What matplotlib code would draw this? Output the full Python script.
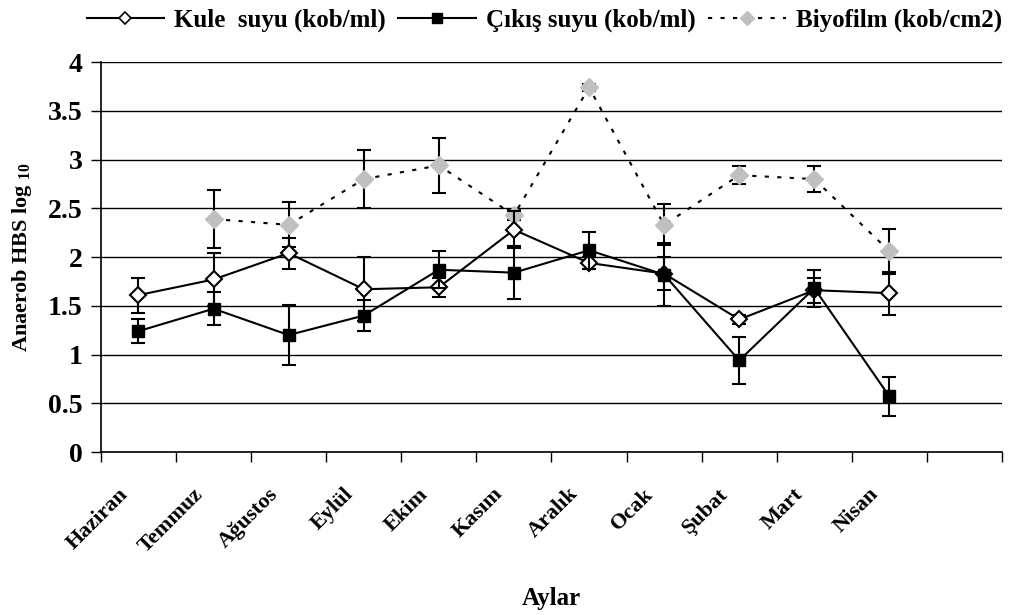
import matplotlib
matplotlib.use('Agg')
import matplotlib.pyplot as plt
import matplotlib.transforms as mtransforms
from matplotlib.lines import Line2D
import numpy as np

plt.rcParams['font.family'] = ['Liberation Serif', 'DejaVu Serif']
plt.rcParams['font.weight'] = 'bold'
plt.rcParams['mathtext.fontset'] = 'custom'
plt.rcParams['mathtext.rm'] = 'Liberation Serif:bold'

months = ['Haziran', 'Temmuz', 'Ağustos', 'Eylül', 'Ekim', 'Kasım',
          'Aralık', 'Ocak', 'Şubat', 'Mart', 'Nisan']

kule = [1.61, 1.77, 2.04, 1.67, 1.69, 2.28, 1.94, 1.83, 1.36, 1.66, 1.63]
kule_err = [0.18, 0.27, 0.16, 0.33, 0.10, 0.19, 0.06, 0.17, 0.05, 0.13, 0.22]

cikis = [1.24, 1.47, 1.20, 1.40, 1.87, 1.84, 2.07, 1.82, 0.94, 1.68, 0.57]
cikis_err = [0.12, 0.17, 0.31, 0.16, 0.19, 0.27, 0.19, 0.32, 0.24, 0.19, 0.20]

biyofilm = [np.nan, 2.39, 2.33, 2.80, 2.94, 2.43, 3.74, 2.33, 2.84, 2.80, 2.06]
biyofilm_err = [0, 0.30, 0.23, 0.30, 0.28, 0.05, 0.04, 0.21, 0.09, 0.13, 0.23]

labels = ['Kule  suyu (kob/ml)', 'Çıkış suyu (kob/ml)', 'Biyofilm (kob/cm2)']

fig = plt.figure(figsize=(10.27, 6.15), dpi=100)
ax = fig.add_axes([0.0983, 0.265, 0.8774, 0.634])

x = np.arange(len(months))
ebkw = dict(ecolor='black', elinewidth=1.5, capsize=5, capthick=1.5)
dots = (0, (2, 4))

ax.errorbar(x, kule, yerr=kule_err, color='black', lw=1.5,
            marker='D', ms=8, mfc='white', mec='black', mew=1.5,
            zorder=4, **ebkw)
ax.errorbar(x, cikis, yerr=cikis_err, color='black', lw=1.5,
            marker='s', ms=9, mfc='black', mec='black',
            zorder=5, **ebkw)
ax.errorbar(x, biyofilm, yerr=biyofilm_err, color='black', lw=1.5,
            ls=dots, marker='D', ms=9, mfc='#c0c0c0', mec='#c0c0c0',
            zorder=3, **ebkw)

ax.set_xlim(-0.5, 11.5)
ax.set_ylim(0, 4)
ax.set_xticks(np.arange(-0.5, 12, 1))
ax.set_xticklabels([])
ax.set_xticks(x, minor=True)
ax.set_xticklabels(months, minor=True, rotation=45, ha='right',
                   rotation_mode='anchor', fontsize=16, fontweight='bold')
ax.tick_params(axis='x', which='minor', length=0, pad=23)
ax.tick_params(axis='x', which='major', length=7, direction='out', width=1)
shift = mtransforms.ScaledTranslation(-15 / 72, 0, fig.dpi_scale_trans)
for lab in ax.get_xticklabels(minor=True):
    lab.set_transform(lab.get_transform() + shift)

ax.set_yticks(np.arange(0, 4.01, 0.5))
ax.set_yticklabels(['0', '0.5', '1', '1.5', '2', '2.5', '3', '3.5', '4'],
                   fontsize=20, fontweight='bold')
ax.tick_params(axis='y', length=7, width=1, pad=6)
ax.yaxis.grid(True, color='black', lw=1)
ax.set_axisbelow(True)
for s in ['top', 'right']:
    ax.spines[s].set_visible(False)
for s in ['left', 'bottom']:
    ax.spines[s].set_linewidth(1.2)

ax.set_ylabel('Anaerob HBS log $_{10}$', fontsize=16, fontweight='bold', labelpad=10)
ax.set_xlabel('Aylar', fontsize=18, fontweight='bold', labelpad=22)

handles = [
    Line2D([], [], color='black', lw=1.5, marker='D', ms=6, mfc='white', mec='black', mew=1.2),
    Line2D([], [], color='black', lw=1.5, marker='s', ms=7, mfc='black', mec='black'),
    Line2D([], [], color='black', lw=1.5, ls=dots, marker='D', ms=7, mfc='#c0c0c0', mec='#c0c0c0'),
]
fig.legend(handles, labels, loc='center', bbox_to_anchor=(0.53, 0.967), ncol=3,
           frameon=False, prop={'size': 18, 'weight': 'bold'}, handlelength=3.1,
           columnspacing=0.5, handletextpad=0.4)

fig.savefig('out.png', dpi=100)
